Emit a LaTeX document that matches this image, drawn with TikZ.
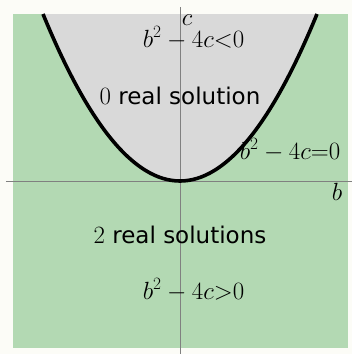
\documentclass[tikz,border=0pt]{standalone}
\usepackage{fontspec}
\newfontfamily\dejavu{DejaVu Sans}
\definecolor{pagebg}{RGB}{252,252,247}
\definecolor{realgreen}{RGB}{179,217,179}
\definecolor{nonegray}{RGB}{217,217,217}
\begin{document}
\begin{tikzpicture}[
  x=1pt, y=1pt,
  axis/.style={draw=black!50, line width=0.9pt},
  curve/.style={draw=black, line width=3.6pt},
  region/.style={font=\dejavu\fontsize{23}{28}\selectfont, anchor=base, inner sep=0pt},
  cond/.style={font=\fontsize{23}{28}\selectfont, anchor=base, inner sep=0pt}
]
% page and regions
\fill[pagebg] (-180,-173) rectangle (172,181);
\useasboundingbox (-180,-173) rectangle (172,181);
\fill[realgreen] (-167,-167) rectangle (168,167);
\fill[nonegray] (-137,167) .. controls (-45.67,-55.67) and (45.67,-55.67) .. (137,167) -- cycle;

% axes
\draw[axis] (-174,0) coordinate (bleft) -- (172,0) coordinate (bright);
\draw[axis] (0,-173) coordinate (cbottom) -- (0,174) coordinate (ctop);

% b^2 - 4c = 0
\draw[curve] (-137,167) coordinate (pleft) .. controls (-45.67,-55.67) and (45.67,-55.67) .. (137,167) coordinate (pright);

\node[region] (zero) at (0,77) {$0$ real solution};
\node[region] (two) at (0,-62) {$2$ real solutions};
\node[cond] (neg) at (13.5,134) {$b^2-4c{<}0$};
\node[cond] (eq) at (110,22) {$b^2-4c{=}0$};
\node[cond] (pos) at (13.5,-118) {$b^2-4c{>}0$};
\node[cond] (clab) at (7,156) {$c$};
\node[cond] (blab) at (157,-19) {$b$};
\end{tikzpicture}
\end{document}
